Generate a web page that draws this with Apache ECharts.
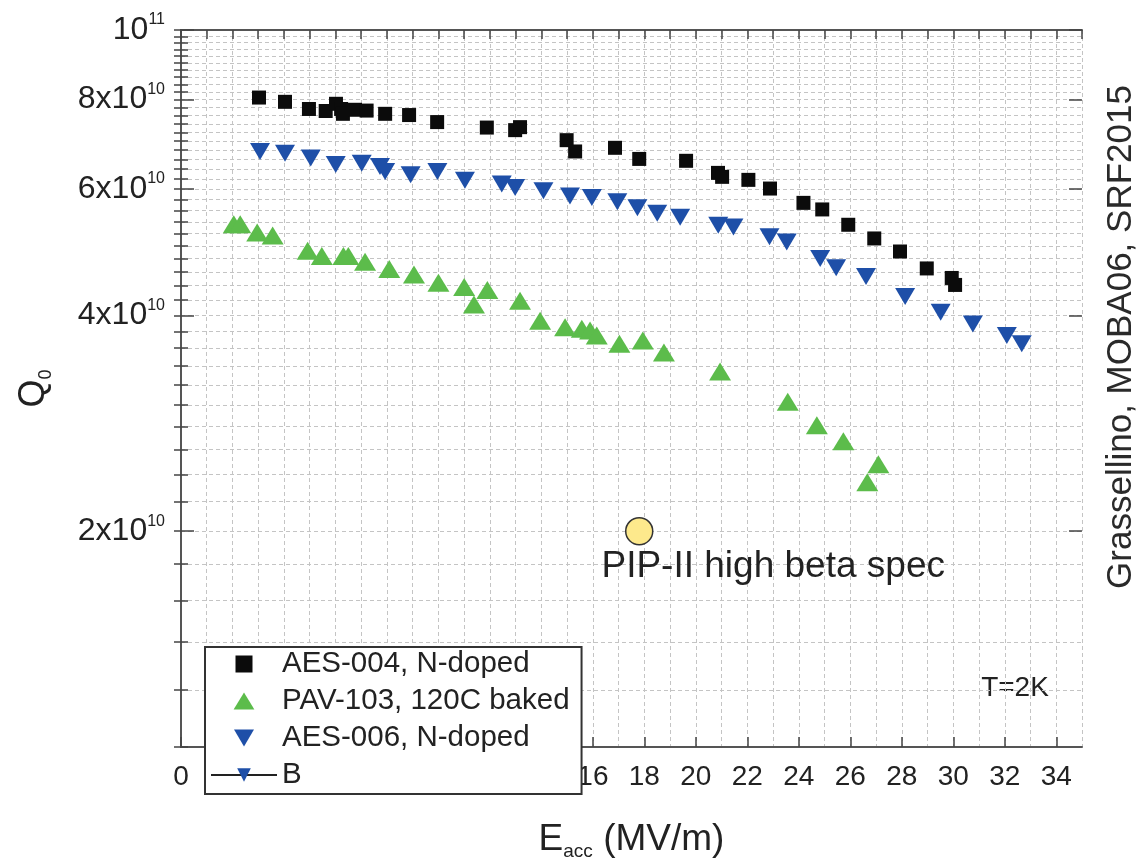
<!DOCTYPE html>
<html>
<head>
<meta charset="UTF-8">
<title>Q0 vs Eacc</title>
<script src="https://cdn.jsdelivr.net/npm/echarts@6/dist/echarts.min.js"></script>
<style>html,body{margin:0;padding:0;background:#fff;}</style>
</head>
<body>
<div id="main" style="width:1148px;height:866px;"></div>
<script>
// data: [Eacc (MV/m), Q0]
var aes004 = [
  [3.03, 8.05e10], [4.04, 7.94e10], [4.97, 7.76e10], [5.62, 7.71e10], [6.02, 7.89e10],
  [6.22, 7.76e10], [6.29, 7.64e10], [6.76, 7.74e10], [7.21, 7.72e10], [7.93, 7.64e10],
  [8.86, 7.61e10], [9.95, 7.44e10], [11.88, 7.31e10], [12.98, 7.25e10], [13.17, 7.32e10],
  [14.98, 7.02e10], [15.31, 6.77e10], [16.86, 6.85e10], [17.8, 6.61e10], [19.62, 6.57e10],
  [20.86, 6.32e10], [21.02, 6.24e10], [22.04, 6.18e10], [22.88, 6.01e10], [24.18, 5.74e10],
  [24.91, 5.62e10], [25.92, 5.35e10], [26.93, 5.12e10], [27.93, 4.91e10], [28.97, 4.65e10],
  [29.94, 4.51e10], [30.07, 4.41e10]
];
var pav103 = [
  [2.05, 5.36e10], [2.3, 5.36e10], [2.96, 5.22e10], [3.56, 5.17e10], [4.92, 4.92e10],
  [5.47, 4.84e10], [6.31, 4.84e10], [6.5, 4.84e10], [7.15, 4.75e10], [8.09, 4.64e10],
  [9.05, 4.56e10], [10.0, 4.44e10], [11.0, 4.38e10], [11.38, 4.14e10], [11.9, 4.34e10],
  [13.17, 4.19e10], [13.95, 3.93e10], [14.92, 3.85e10], [15.57, 3.83e10], [15.89, 3.81e10],
  [16.15, 3.75e10], [17.03, 3.65e10], [17.94, 3.69e10], [18.76, 3.55e10], [20.94, 3.34e10],
  [23.57, 3.03e10], [24.7, 2.81e10], [25.73, 2.67e10], [27.09, 2.48e10], [26.66, 2.34e10]
];
var aes006 = [
  [3.07, 6.77e10], [4.04, 6.73e10], [5.04, 6.63e10], [6.01, 6.49e10], [7.02, 6.52e10],
  [7.73, 6.45e10], [7.93, 6.35e10], [8.92, 6.28e10], [9.96, 6.35e10], [11.03, 6.17e10],
  [12.46, 6.10e10], [12.98, 6.03e10], [14.08, 5.97e10], [15.11, 5.87e10], [15.96, 5.84e10],
  [16.95, 5.76e10], [17.73, 5.65e10], [18.5, 5.55e10], [19.39, 5.48e10], [20.87, 5.34e10],
  [21.46, 5.31e10], [22.86, 5.15e10], [23.53, 5.06e10], [24.83, 4.80e10], [25.45, 4.66e10],
  [26.61, 4.53e10], [28.13, 4.25e10], [29.51, 4.04e10], [30.76, 3.89e10], [32.08, 3.75e10],
  [32.66, 3.65e10]
];
var pipSpec = [[17.8, 2.0e10]];

var seriesNames = ['AES-004, N-doped', 'PAV-103, 120C baked', 'AES-006, N-doped', 'B'];
var xMajorTicks = [0, 2, 4, 6, 8, 10, 12, 14, 16, 18, 20, 22, 24, 26, 28, 30, 32, 34];
var yLabelValues = [2e10, 4e10, 6e10, 8e10, 1e11];
var yLabelText = ['2x10|10', '4x10|10', '6x10|10', '8x10|10', '10|11'];
var yMinorTicks = [];
for (var i = 10; i <= 100; i += 2) yMinorTicks.push(i * 1e9);

var FONT = 'Liberation Sans';
var gridLine = {show: true, lineStyle: {color: '#c4c4c4', width: 1, type: [4, 3]}};
var frame = {show: true, lineStyle: {color: '#555', width: 2}};
var tickStyle = {color: '#444', width: 1.5};
// path symbols so the legend keeps their aspect
var squareSym = 'path://M0,0L10,0L10,10L0,10Z';
var upTri = 'path://M11,0L22,18L0,18Z';
var downTri = 'path://M0,0L20,0L10,17Z';

function yLabel(v) {
  var idx = yLabelValues.findIndex(function (t) { return Math.abs(t - v) / t < 1e-6; });
  if (idx < 0) return '';
  var p = yLabelText[idx].split('|');
  return '{b|' + p[0] + '}{s|' + p[1] + '}';
}

function logAxis(pos, extra) {
  var a = {
    type: 'log', logBase: 10, min: 1e10, max: 1e11, position: pos,
    axisLine: {show: false},
    axisTick: {show: false},
    axisLabel: {show: false},
    splitLine: {show: false},
    minorTick: {show: false},
    minorSplitLine: {show: false}
  };
  for (var k in extra) a[k] = extra[k];
  return a;
}

var chart = echarts.init(document.getElementById('main'));
var option = {
  animation: false,
  backgroundColor: '#fff',
  grid: {left: 181, top: 30, right: 66, bottom: 109, containLabel: false},
  legend: {
    data: seriesNames,
    orient: 'vertical',
    left: 205, top: 647,
    padding: [2, 12, 4, 5],
    itemWidth: 66, itemHeight: 17, itemGap: 7,
    symbolKeepAspect: true,
    backgroundColor: '#fff',
    borderColor: '#333', borderWidth: 2,
    textStyle: {fontFamily: FONT, fontSize: 29.5, color: '#222', lineHeight: 29}
  },
  xAxis: [
    {
      type: 'value', min: 0, max: 35, interval: 1, position: 'bottom',
      axisLine: frame, axisTick: {show: false}, axisLabel: {show: false},
      splitLine: gridLine,
      name: '{e|E}{sub|acc}{e| (MV/m)}', nameLocation: 'middle', nameGap: 72,
      nameTextStyle: {
        rich: {
          e: {fontFamily: FONT, fontSize: 37, color: '#222', lineHeight: 42},
          sub: {fontFamily: FONT, fontSize: 19, color: '#222', verticalAlign: 'bottom', lineHeight: 42, padding: [15, 0, 0, 0]}
        }
      }
    },
    {
      type: 'value', min: 0, max: 35, position: 'bottom',
      axisLine: {show: false},
      axisTick: {show: true, inside: true, length: 10, customValues: xMajorTicks, lineStyle: tickStyle},
      axisLabel: {show: true, customValues: xMajorTicks, fontFamily: FONT, fontSize: 28, color: '#222', margin: 16},
      splitLine: {show: false}
    },
    {
      type: 'value', min: 0, max: 35, interval: 1, position: 'top',
      axisLine: frame,
      axisTick: {show: true, inside: true, length: 9, lineStyle: tickStyle},
      axisLabel: {show: false},
      splitLine: {show: false}
    }
  ],
  yAxis: [
    logAxis('left', {
      axisLine: frame,
      axisTick: {show: true, inside: true, length: 7, customValues: yMinorTicks, lineStyle: tickStyle},
      axisLabel: {
        show: true, customValues: yLabelValues, margin: 16, formatter: yLabel,
        rich: {
          b: {fontFamily: FONT, fontSize: 32, color: '#222', lineHeight: 36},
          s: {fontFamily: FONT, fontSize: 16, color: '#222', verticalAlign: 'top', lineHeight: 36, padding: [0, 0, 16, 0]}
        }
      },
      splitLine: gridLine,
      name: '{q|Q}{s|0}', nameLocation: 'middle', nameGap: 126,
      nameTextStyle: {
        rich: {
          q: {fontFamily: FONT, fontSize: 36, color: '#222', lineHeight: 42},
          s: {fontFamily: FONT, fontSize: 18, color: '#222', verticalAlign: 'bottom', lineHeight: 42, padding: [12, 0, 0, 0]}
        }
      }
    }),
    logAxis('right', {
      axisLine: frame,
      axisTick: {show: true, inside: true, length: 7, customValues: yMinorTicks, lineStyle: tickStyle}
    }),
    logAxis('left', {
      axisTick: {show: true, inside: true, length: 13, customValues: yLabelValues, lineStyle: tickStyle}
    }),
    logAxis('right', {
      axisTick: {show: true, inside: true, length: 13, customValues: yLabelValues, lineStyle: tickStyle}
    })
  ],
  graphic: [
    {
      type: 'text', x: 1121, y: 337, rotation: Math.PI / 2,
      style: {text: 'Grassellino, MOBA06, SRF2015', fontFamily: FONT, fontSize: 35, fill: '#2a2a2a', align: 'center', verticalAlign: 'middle'}
    },
    {
      type: 'text', x: 1015, y: 688,
      style: {text: 'T=2K', fontFamily: FONT, fontSize: 28, fill: '#222', align: 'center', verticalAlign: 'middle'}
    }
  ],
  series: [
    {
      name: seriesNames[0], type: 'scatter', data: aes004,
      symbol: squareSym, symbolSize: 14,
      itemStyle: {color: '#0b0b0b', opacity: 1}
    },
    {
      name: seriesNames[1], type: 'scatter', data: pav103,
      symbol: upTri, symbolSize: [22, 18],
      itemStyle: {color: '#5cbc4b', opacity: 1}
    },
    {
      name: seriesNames[2], type: 'scatter', data: aes006,
      symbol: downTri, symbolSize: [20, 17],
      itemStyle: {color: '#1e4fa8', opacity: 1}
    },
    {
      name: seriesNames[3], type: 'line', data: [],
      symbol: downTri, symbolSize: [20, 17],
      itemStyle: {color: '#1e4fa8'},
      lineStyle: {color: '#222', width: 2}
    },
    {
      name: 'PIP-II high beta spec', type: 'scatter', data: pipSpec,
      symbol: 'circle', symbolSize: 27,
      itemStyle: {color: '#fde98c', borderColor: '#333', borderWidth: 1.5, opacity: 1},
      label: {
        show: true, formatter: 'PIP-II high beta spec', position: 'bottom', distance: 5,
        offset: [134, -2], fontFamily: FONT, fontSize: 37, color: '#222'
      }
    }
  ]
};
chart.setOption(option);
</script>
</body>
</html>
